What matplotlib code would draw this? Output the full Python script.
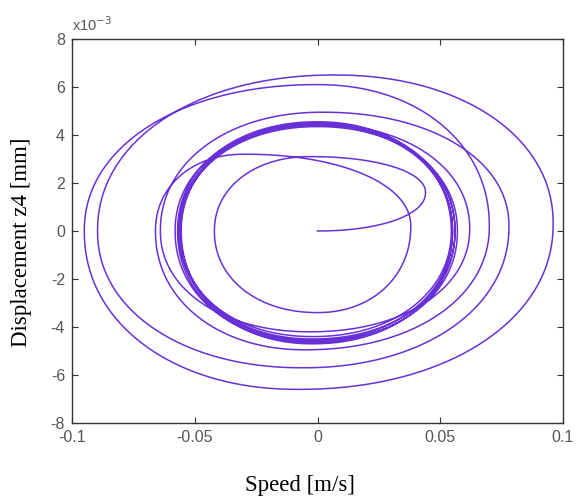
import numpy as np
import matplotlib
matplotlib.use("Agg")
import matplotlib.pyplot as plt

# Phase trajectory read from the picture as a sequence of turning points
# (right, top, left, bottom, right, ...), counter-clockwise, starting at origin.
# x: speed [m/s], y: displacement [x1e-3 mm]
start_point = (0.0, 0.0)
turn_x = [0.044, -0.003, -0.042, 0.000,
          0.038, -0.030, -0.066, -0.005,
          0.070, 0.000, -0.095, -0.008,
          0.096, 0.007, -0.0896, -0.006,
          0.078, 0.002, -0.064, -0.003,
          0.062, 0.000, -0.058, -0.002,
          0.057, 0.000, -0.056, -0.002,
          0.056, 0.000, -0.0555, -0.002,
          0.055, 0.000, -0.0565, -0.002,
          0.0545, 0.000, -0.057, -0.002,
          0.056, 0.000, -0.0558, -0.002,
          0.055, 0.000, -0.0562, -0.002]
turn_y = [1.6, 3.1, 0.0, -3.4,
          0.2, 3.2, 0.0, -4.95,
          0.2, 6.1, 0.0, -6.6,
          0.3, 6.5, 0.0, -5.7,
          0.2, 4.95, 0.0, -4.2,
          0.1, 4.45, 0.0, -4.6,
          0.0, 4.35, 0.0, -4.5,
          0.0, 4.5, 0.0, -4.7,
          0.0, 4.4, 0.0, -4.4,
          0.0, 4.55, 0.0, -4.65,
          0.0, 4.42, 0.0, -4.55,
          0.0, 4.48, 0.0, -4.6]

xticks = [-0.1, -0.05, 0, 0.05, 0.1]
xticklabels = ["-0.1", "-0.05", "0", "0.05", "0.1"]
yticks = [-8, -6, -4, -2, 0, 2, 4, 6, 8]
yticklabels = ["-8", "-6", "-4", "-2", "0", "2", "4", "6", "8"]

line_color = "#6a30d8"

# build the path: quarter-ellipse arcs between successive turning points
px = [start_point[0]]
py = [start_point[1]]
pts = [start_point] + list(zip(turn_x, turn_y))
th = np.linspace(0, np.pi / 2, 40)[1:]
pexp = 0.95
c = np.cos(th) ** pexp
s = np.sin(th) ** pexp
for i in range(1, len(pts)):
    (ax0, ay0), (bx, by) = pts[i - 1], pts[i]
    kind = (i - 1) % 4  # 0 right, 1 top, 2 left, 3 bottom
    if kind in (0, 2):
        xs = ax0 + (bx - ax0) * s
        ys = by + (ay0 - by) * c
    else:
        xs = bx + (ax0 - bx) * c
        ys = ay0 + (by - ay0) * s
    px.extend(xs)
    py.extend(ys)

fig = plt.figure(figsize=(5.81, 5.04), dpi=100)
ax = fig.add_axes([72 / 581, 1 - 423 / 504, (563 - 72) / 581, (423 - 39) / 504])
ax.plot(px, py, color=line_color, lw=1.1)

ax.set_xlim(-0.1, 0.1)
ax.set_ylim(-8, 8)
ax.set_xticks(xticks)
ax.set_xticklabels(xticklabels)
ax.set_yticks(yticks)
ax.set_yticklabels(yticklabels)
ax.tick_params(direction="in", length=4, top=True, right=True,
               labelsize=11.5, labelcolor="#555555", color="#333333", pad=5)
for lab in ax.get_xticklabels() + ax.get_yticklabels():
    lab.set_family("Liberation Sans")
for sp in ax.spines.values():
    sp.set_color("#333333")
    sp.set_linewidth(1.0)

ax.text(0.0, 1.012, r"x10$^{-3}$", transform=ax.transAxes, fontsize=10.5,
        color="#555555", family="Liberation Sans", va="bottom", ha="left")

fig.text(300 / 581, 1 - 486 / 504, "Speed [m/s]", family="Liberation Serif",
         fontsize=16.5, ha="center", va="center")
fig.text(22 / 581, 1 - 242 / 504, "Displacement z4 [mm]", family="Liberation Serif",
         fontsize=16.5, ha="center", va="center", rotation=90)

fig.savefig("out.png", dpi=100)
